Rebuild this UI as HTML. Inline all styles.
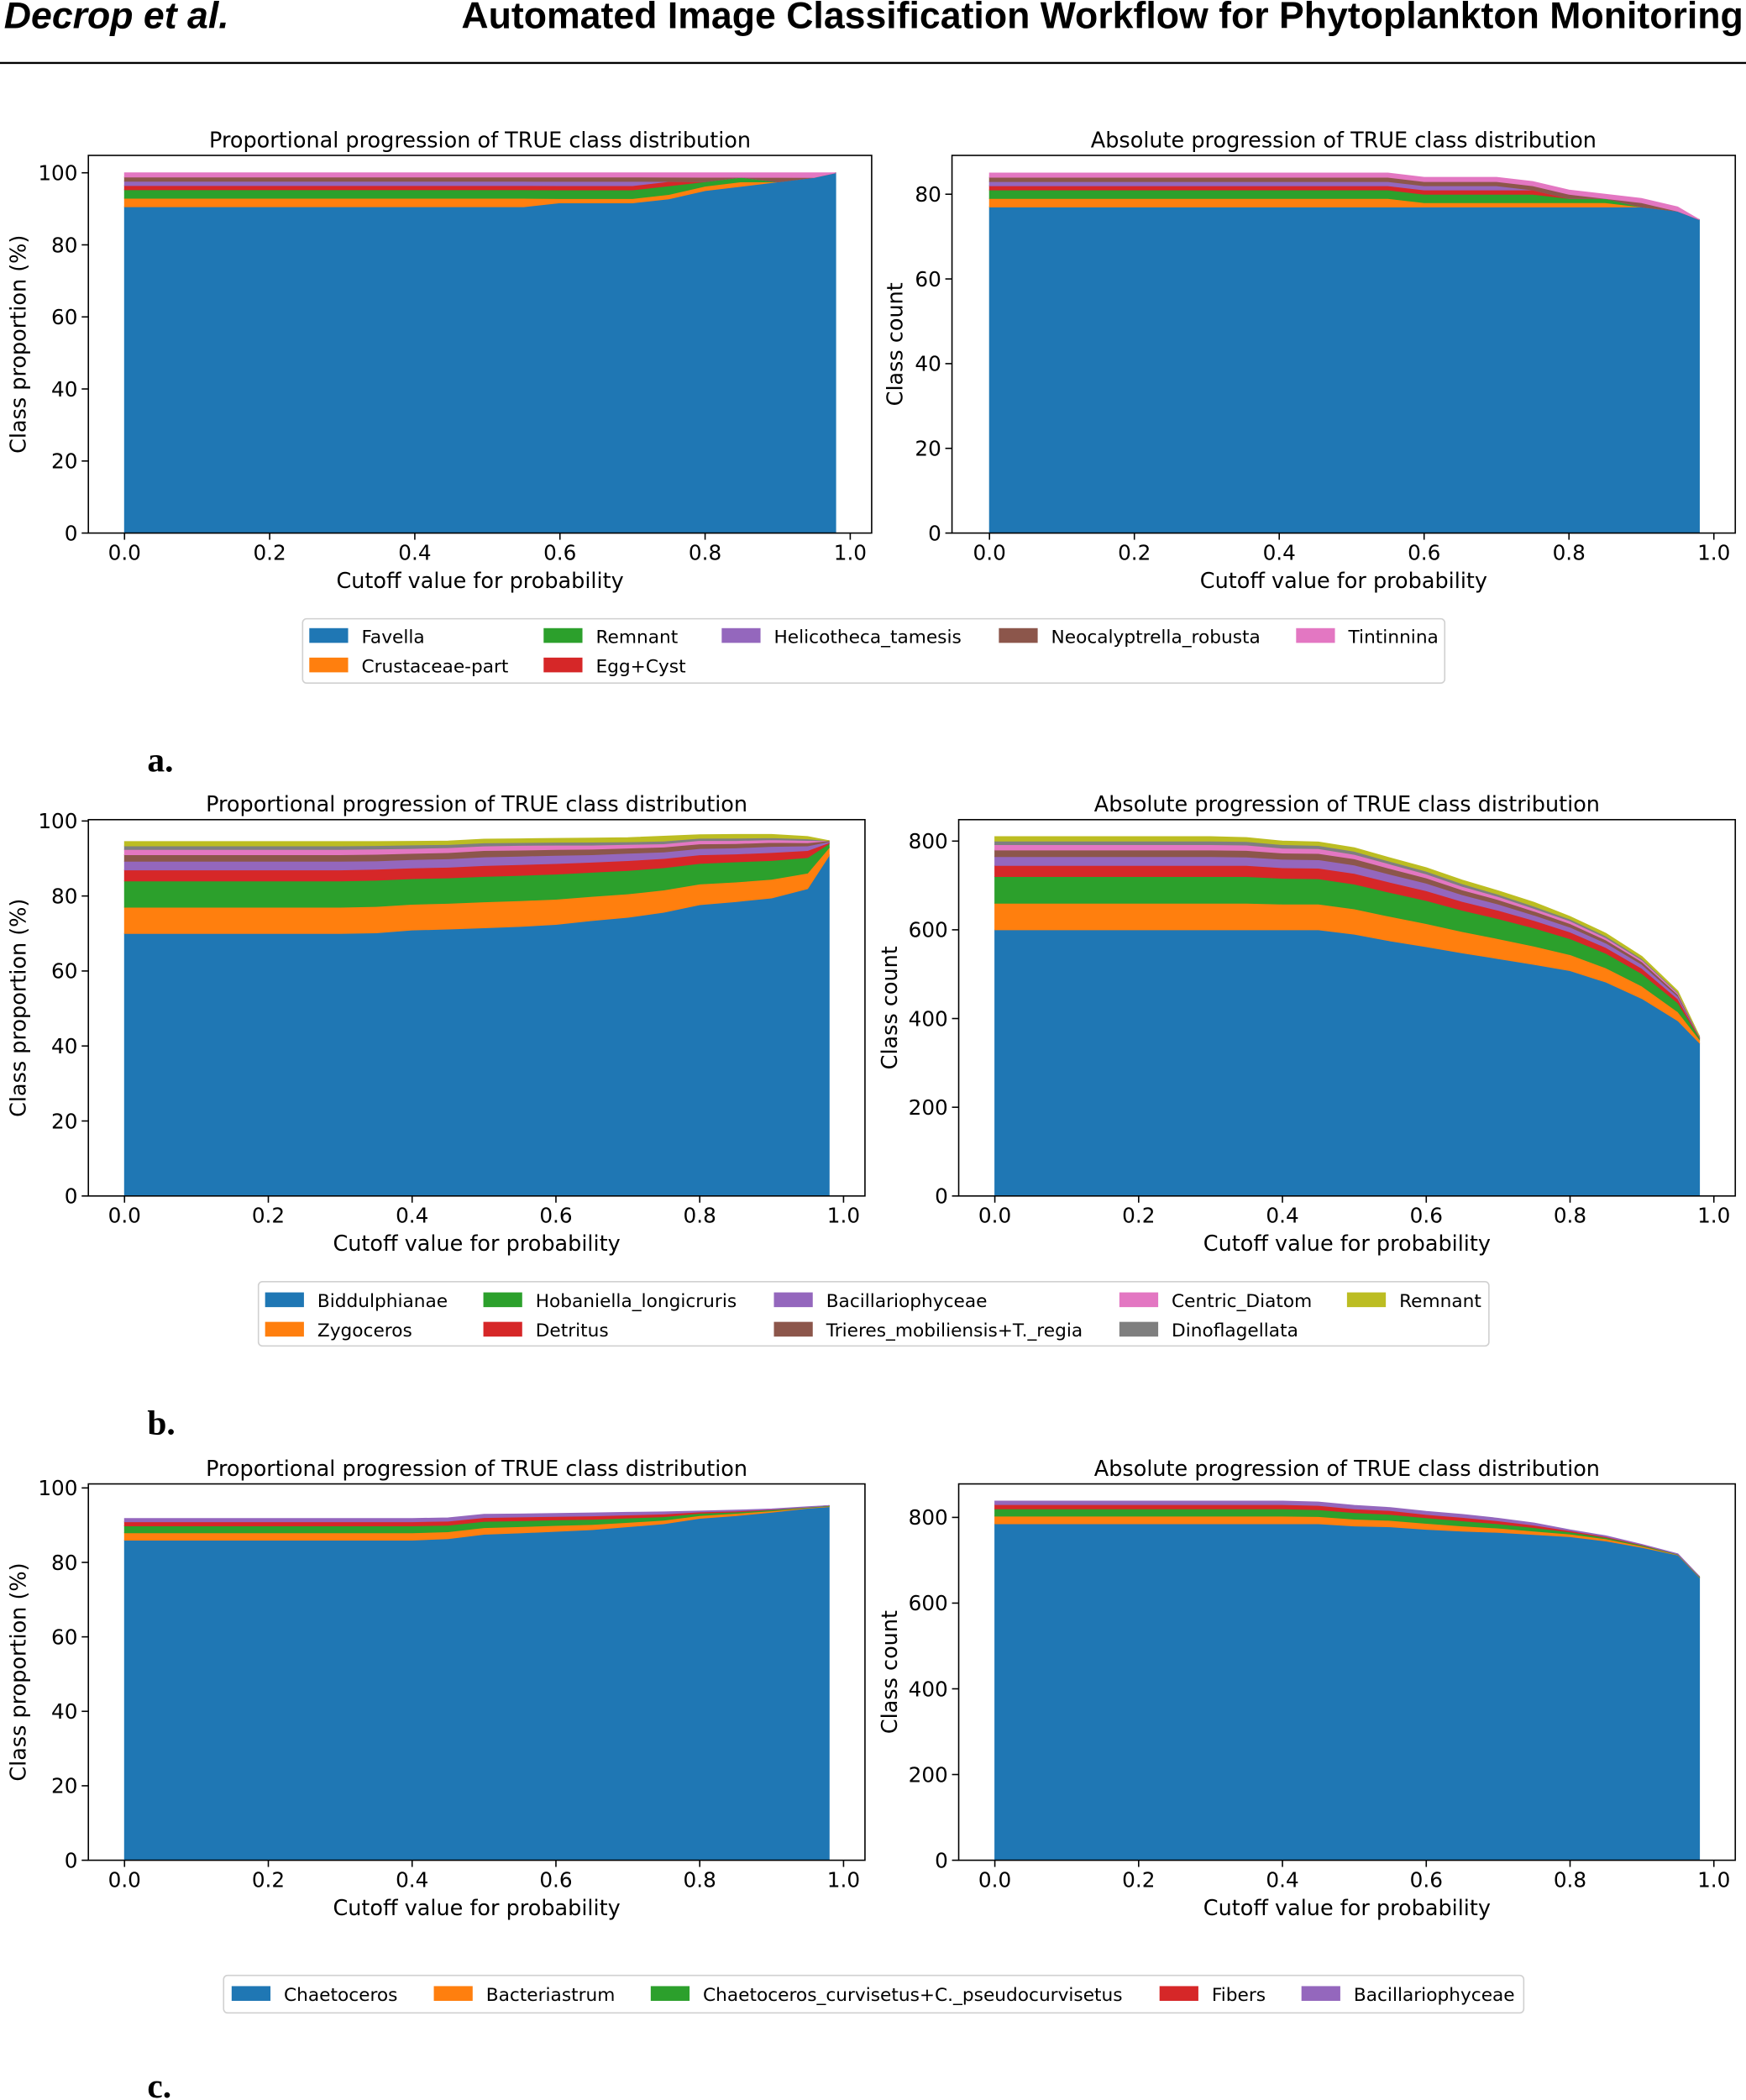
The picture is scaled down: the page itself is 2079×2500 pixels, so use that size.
<!DOCTYPE html>
<html><head><meta charset="utf-8"><style>
html,body{margin:0;padding:0;background:#fff}
svg{display:block}
text{font-family:"DejaVu Sans","Liberation Sans",sans-serif;fill:#000}
</style></head><body>
<svg id="fig" width="2079" height="2500" viewBox="0 0 1304 1568" xmlns="http://www.w3.org/2000/svg">
<rect width="1304" height="1568" fill="#fff"/>
<text x="3" y="21" font-size="28" font-weight="bold" font-style="italic" style="font-family:'Liberation Sans',sans-serif">Decrop et al.</text>
<text x="1302" y="21" font-size="28" font-weight="bold" text-anchor="end" style="font-family:'Liberation Sans',sans-serif">Automated Image Classification Workflow for Phytoplankton Monitoring</text>
<line x1="0" y1="47" x2="1304" y2="47" stroke="#000" stroke-width="1.5"/>
<text x="110" y="576" font-size="26" font-weight="bold" style="font-family:'Liberation Serif',serif">a.</text>
<text x="110" y="1071" font-size="26" font-weight="bold" style="font-family:'Liberation Serif',serif">b.</text>
<text x="110" y="1566" font-size="26" font-weight="bold" style="font-family:'Liberation Serif',serif">c.</text>
</svg>
<script>
const cutoffs=[0,.05,.1,.15,.2,.25,.3,.35,.4,.45,.5,.55,.6,.65,.7,.75,.8,.85,.9,.95,.98];
const colors=["#1f77b4","#ff7f0e","#2ca02c","#d62728","#9467bd","#8c564b","#e377c2","#7f7f7f","#bcbd22"];
// Panel a
const aNames=["Favella","Crustaceae-part","Remnant","Egg+Cyst","Helicotheca_tamesis","Neocalyptrella_robusta","Tintinnina"];
const aFavella=[77,77,77,77,77,77,77,77,77,77,77,77,77,77,77,77,77,77,77,76,74];
const aCrust=[2,2,2,2,2,2,2,2,2,2,2,2,1,1,1,1,1,1,0,0,0];
const aRemnant=[2,2,2,2,2,2,2,2,2,2,2,2,2,2,2,2,1,1,0,0,0];
const aEgg=[1,1,1,1,1,1,1,1,1,1,1,1,1,1,1,1,0,0,0,0,0];
const aHelico=[1,1,1,1,1,1,1,1,1,1,1,1,1,1,1,0,0,0,0,0,0];
const aNeo=[1,1,1,1,1,1,1,1,1,1,1,1,1,1,1,1,1,0,1,0,0];
const aTint=[1,1,1,1,1,1,1,1,1,1,1,1,1,1,1,1,1,1,1,1,0];
const aUnlisted=[0,0,0,0,0,0,0,0,0,0,0,0,0,0,0,0,0,0,0,0,0];
// Panel b
const bNames=["Biddulphianae","Zygoceros","Hobaniella_longicruris","Detritus","Bacillariophyceae","Trieres_mobiliensis+T._regia","Centric_Diatom","Dinoflagellata","Remnant"];
const bBidd=[600,600,600,600,600,600,600,600,600,600,590,575,562,548,535,522,508,482,445,395,345];
const bZyg=[60,60,60,60,60,60,60,60,58,58,57,55,52,48,45,41,36,32,28,20,8];
const bHob=[60,60,60,60,60,60,60,60,58,57,56,54,52,48,45,41,36,33,28,20,4];
const bDet=[25,25,25,25,25,25,25,25,24,24,24,23,22,20,19,17,15,13,12,9,1];
const bBac=[20,20,20,20,20,20,20,19,19,19,19,18,17,15,14,12,11,10,9,6,1];
const bTri=[15,15,15,15,15,15,15,15,14,14,14,13,12,11,10,9,8,7,6,4,1];
const bCen=[12,12,12,12,12,12,12,12,11,11,10,10,9,8,7,6,6,5,4,3,0];
const bDino=[8,8,8,8,8,8,8,8,8,7,7,6,6,6,5,5,4,4,3,2,0];
const bRem=[10,10,10,10,10,10,10,9,8,8,8,8,8,8,8,9,6,6,5,3,0];
const bUnlisted=[47,47,47,47,47,47,47,47,46,45,40,38,36,34,32,28,24,22,20,20,20];
// Panel c
const cNames=["Chaetoceros","Bacteriastrum","Chaetoceros_curvisetus+C._pseudocurvisetus","Fibers","Bacillariophyceae"];
const cChaet=[785,785,785,785,785,785,785,785,785,785,780,778,772,768,765,760,755,745,730,712,660];
const cBact=[18,18,18,18,18,18,18,18,18,17,16,15,14,12,10,8,6,5,3,1,1];
const cCurv=[17,17,17,17,17,17,17,17,17,16,15,14,13,12,10,8,5,3,2,1,1];
const cFib=[10,10,10,10,10,10,10,10,10,10,9,9,8,8,7,6,3,2,1,0,0];
const cBacil=[8,8,8,8,8,8,8,8,8,8,8,7,7,7,6,5,2,2,1,1,0];
const cUnlisted=[75,75,75,75,75,75,75,75,75,73,63,62,60,58,56,54,51,48,44,38,33];
const xTicks=[0,0.2,0.4,0.6,0.8,1.0];
const xTickLabels=["0.0","0.2","0.4","0.6","0.8","1.0"];
const pctTicks=[0,20,40,60,80,100];
const aAbsTicks=[0,20,40,60,80];
const bcAbsTicks=[0,200,400,600,800];

const NS="http://www.w3.org/2000/svg";
const svg=document.getElementById('fig');
function mk(tag,attrs,parent){const e=document.createElementNS(NS,tag);for(const k in attrs)e.setAttribute(k,attrs[k]);(parent||svg).appendChild(e);return e;}

function plot(id,box,series,unlisted,mode,yTicks,yTop,yTopPx,ylabel,ylabX){
  const g=mk('g',{});
  
  
  const xs=v=>box.x0+v*(box.x1-box.x0);
  const ys=v=>box.b-v*(box.b-yTopPx)/yTop;
  const n=cutoffs.length;
  const denom=cutoffs.map((_,i)=>series.reduce((s,a)=>s+a[i],0)+unlisted[i]);
  const val=(a,i)=>mode==='pct'?a[i]/denom[i]*100:a[i];
  let base=new Array(n).fill(0);
  series.forEach((arr,k)=>{
    const top=base.map((b,i)=>b+val(arr,i));
    let d='M'+cutoffs.map((c,i)=>xs(c).toFixed(2)+','+ys(top[i]).toFixed(2)).join('L');
    for(let i=n-1;i>=0;i--)d+='L'+xs(cutoffs[i]).toFixed(2)+','+ys(base[i]).toFixed(2);
    const p=mk('path',{d:d+'Z',fill:colors[k],stroke:colors[k],'stroke-width':0.6},g);
    
    
    base=top;
  });
  const fr=mk('rect',{x:box.l,y:box.t,width:box.r-box.l,height:box.b-box.t,fill:'none',stroke:'#000','stroke-width':1},g);
  
  
  xTicks.forEach((t,i)=>{
    mk('line',{x1:xs(t),x2:xs(t),y1:box.b,y2:box.b+5,stroke:'#000'},g);
    const tx=mk('text',{x:xs(t),y:box.b+20,'font-size':15.5,'text-anchor':'middle'},g);
    tx.textContent=xTickLabels[i];
    
    
  });
  yTicks.forEach(t=>{
    mk('line',{x1:box.l-5,x2:box.l,y1:ys(t),y2:ys(t),stroke:'#000'},g);
    const tx=mk('text',{x:box.l-8,y:ys(t)+5.5,'font-size':15.5,'text-anchor':'end'},g);
    tx.textContent=String(t);
    
    
  });
  const cx=(box.l+box.r)/2;
  const ti=mk('text',{x:cx,y:box.t-6,'font-size':16,'text-anchor':'middle'},g);
  ti.textContent=(mode==='pct'?'Proportional':'Absolute')+' progression of TRUE class distribution';
  
  
  const xl=mk('text',{x:cx,y:box.b+41,'font-size':16,'text-anchor':'middle'},g);
  xl.textContent='Cutoff value for probability';
  
  
  const cy=(box.t+box.b)/2;
  const yl=mk('text',{x:ylabX,y:cy,'font-size':16,'text-anchor':'middle',transform:`rotate(-90 ${ylabX} ${cy})`},g);
  yl.textContent=ylabel;
  
  
}
function legend(id,box,names,cols,rows){
  const g=mk('g',{});
  
  
  mk('rect',{x:box.x,y:box.y,width:box.w,height:box.h,rx:3,fill:'#fff',stroke:'#d0d0d0'},g);
  const nc=cols.length,nr=rows.length;
  const extra=names.length-(nr-1)*nc; // columns that get full rows
  let k=0;
  for(let c=0;c<nc;c++){
    const cnt=(nr-1)+(c<extra?1:0);
    for(let r=0;r<cnt&&k<names.length;r++,k++){
      const hx=cols[c],hy=rows[r];
      const h=mk('rect',{x:hx,y:hy-6,width:29,height:11,fill:colors[k]},g);
      
      
      const t=mk('text',{x:hx+39,y:hy+5,'font-size':13.6},g);
      t.textContent=names[k];
      
      
    }
  }
}
const aS=[aFavella,aCrust,aRemnant,aEgg,aHelico,aNeo,aTint];
const bS=[bBidd,bZyg,bHob,bDet,bBac,bTri,bCen,bDino,bRem];
const cS=[cChaet,cBact,cCurv,cFib,cBacil];
plot('a-proportional',{l:66,r:651,t:116,b:398,x0:93,x1:635},aS,aUnlisted,'pct',pctTicks,100,129,'Class proportion (%)',19);
plot('a-absolute',{l:711,r:1296,t:116,b:398,x0:739,x1:1280},aS,aUnlisted,'abs',aAbsTicks,80,145,'Class count',674);
plot('b-proportional',{l:66,r:646,t:612,b:893,x0:93,x1:630},bS,bUnlisted,'pct',pctTicks,100,613,'Class proportion (%)',19);
plot('b-absolute',{l:716,r:1296,t:612,b:893,x0:743,x1:1280},bS,bUnlisted,'abs',bcAbsTicks,800,628,'Class count',670);
plot('c-proportional',{l:66,r:646,t:1108,b:1389,x0:93,x1:630},cS,cUnlisted,'pct',pctTicks,100,1111,'Class proportion (%)',19);
plot('c-absolute',{l:716,r:1296,t:1108,b:1389,x0:743,x1:1280},cS,cUnlisted,'abs',bcAbsTicks,800,1133,'Class count',670);
legend('legend-a',{x:226,y:462,w:853,h:48},aNames,[231,406,539,746,968],[475,497]);
legend('legend-b',{x:193,y:957,w:919,h:48},bNames,[198,361,578,836,1006],[971,993]);
legend('legend-c',{x:167,y:1475,w:971,h:28},cNames,[173,324,486,866,972],[1489]);
</script>
</body></html>
